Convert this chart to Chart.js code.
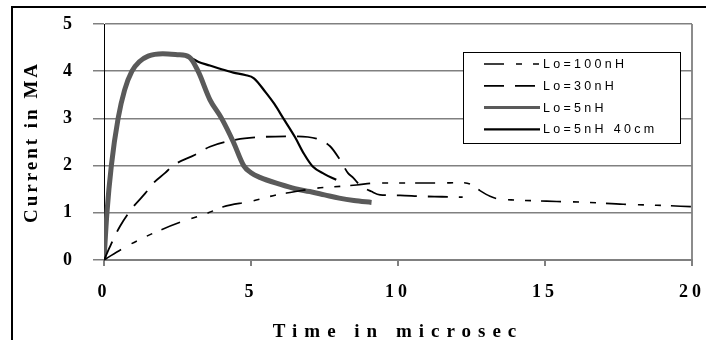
<!DOCTYPE html>
<html>
<head>
<meta charset="utf-8">
<script src="https://cdn.jsdelivr.net/npm/chart.js@4.4.1/dist/chart.umd.min.js"></script>
<style>
html,body{margin:0;padding:0;background:#fff;}
#wrap{position:relative;width:706px;height:340px;overflow:hidden;}
#frame{position:absolute;left:11px;top:6px;right:-4px;bottom:-4px;border-left:2px solid #000;border-top:2px solid #000;}
canvas{position:absolute;left:0;top:0;}
</style>
</head>
<body>
<div id="wrap"><div id="frame"></div><canvas id="chart" width="706" height="340"></canvas></div>
<script>
// ===== DATA =====
const seriesLabels = ["Lo=100nH", "Lo=30nH", "Lo=5nH", "Lo=5nH 40cm"];

const time100 = [0, 0.71, 1.17, 1.79, 2.64, 3.55, 4.06, 4.97, 5.87, 6.33, 7.23, 8.03, 8.59, 9.27, 10.3, 11.43, 12.1, 12.45, 12.79, 13.13, 13.36, 14.04, 15.4, 16.5, 17.66, 18.8, 20.0];
const curr100 = [0, 0.27, 0.42, 0.60, 0.81, 1.0, 1.13, 1.24, 1.38, 1.43, 1.52, 1.56, 1.59, 1.63, 1.63, 1.63, 1.64, 1.61, 1.47, 1.35, 1.30, 1.27, 1.24, 1.22, 1.18, 1.16, 1.13];

const time30 = [0, 0.2, 0.54, 1.0, 1.4, 1.68, 2.07, 2.35, 3.1, 3.6, 4.5, 5.19, 6.44, 7.23, 7.69, 8.03, 8.3, 8.48, 8.7, 9.1, 9.39, 10.07, 10.75, 11.5, 12.2];
const curr30 = [0, 0.28, 0.71, 1.13, 1.41, 1.63, 1.84, 2.0, 2.23, 2.4, 2.55, 2.6, 2.62, 2.57, 2.41, 2.12, 1.84, 1.74, 1.59, 1.45, 1.38, 1.37, 1.35, 1.34, 1.33];

const time5 = [0, 0.1, 0.25, 0.48, 0.7, 0.95, 1.2, 1.5, 2.0, 2.5, 2.9, 3.2, 3.6, 4.0, 4.4, 4.75, 5.0, 5.3, 6.0, 6.5, 7.0, 7.5, 8.0, 8.5, 9.1];
const curr5 = [0, 1.0, 2.0, 3.0, 3.6, 4.0, 4.2, 4.32, 4.37, 4.35, 4.3, 4.0, 3.4, 3.0, 2.5, 2.0, 1.85, 1.75, 1.6, 1.51, 1.45, 1.38, 1.31, 1.26, 1.22];

const time40 = [0, 0.1, 0.25, 0.48, 0.7, 0.95, 1.2, 1.5, 2.0, 2.5, 2.9, 3.2, 3.6, 4.0, 4.4, 4.8, 5.1, 5.5, 5.8, 6.1, 6.5, 6.8, 7.1, 7.5, 7.9];
const curr40 = [0, 1.0, 2.0, 3.0, 3.6, 4.0, 4.2, 4.32, 4.37, 4.35, 4.3, 4.2, 4.12, 4.04, 3.97, 3.92, 3.85, 3.55, 3.3, 3.0, 2.6, 2.25, 1.98, 1.82, 1.7];

const xTicks = [0, 5, 10, 15, 20];
const yTicks = [0, 1, 2, 3, 4, 5];

// ===== HELPERS =====
const serif = "'Liberation Serif','Times New Roman',serif";
const sans = "'Liberation Sans',Arial,sans-serif";
function pts(xs, ys){return xs.map((x,i)=>({x:x,y:ys[i]}));}

// letter spacing per scale (the scan looks stretched)
const spacingMap = {x:{title:'7px',ticks:'4px'}, y:{title:'3px',ticks:'0px'}};
const spacing = {
  id:'spacing',
  beforeDraw(chart){
    Object.values(chart.scales).forEach(s=>{
      if(s._spaced || !spacingMap[s.id]) return;
      s._spaced = true;
      const sp = spacingMap[s.id], t0 = s.drawTitle, l0 = s.drawLabels;
      s.drawTitle = function(){const c=this.ctx;c.save();c.letterSpacing=sp.title;t0.call(this);c.restore();};
      s.drawLabels = function(a){const c=this.ctx;c.save();c.letterSpacing=sp.ticks;l0.call(this,a);c.restore();};
    });
  }
};

// boxed legend inside the plot
const legendBox = {
  id:'legendBox',
  afterDraw(chart){
    const c = chart.ctx;
    const bx=463, by=52, bw=217, bh=91;
    c.save();
    c.fillStyle='#fff'; c.fillRect(bx,by,bw,bh);
    c.strokeStyle='#000'; c.lineWidth=1; c.strokeRect(bx+0.5,by+0.5,bw,bh);
    c.font = "12.5px " + sans; c.letterSpacing='3.3px';
    c.textBaseline='middle'; c.textAlign='left';
    chart.data.datasets.forEach((ds,i)=>{
      const y = 64 + i*21.8;
      c.save();
      c.strokeStyle=ds.borderColor; c.lineWidth=Math.min(ds.borderWidth,3);
      c.setLineDash(ds.borderDash||[]);
      c.beginPath(); c.moveTo(484,y); c.lineTo(540,y); c.stroke();
      c.restore();
      c.fillStyle='#000';
      c.fillText(ds.label,543,y+0.5);
    });
    c.restore();
  }
};

// ===== CHART =====
new Chart(document.getElementById('chart'),{
  type:'line',
  data:{datasets:[
    {label:seriesLabels[0],data:pts(time100,curr100),borderColor:'#000',borderWidth:1.6,borderDash:[20,12,6,11,6,10]},
    {label:seriesLabels[1],data:pts(time30,curr30),borderColor:'#000',borderWidth:1.8,borderDash:[20,11]},
    {label:seriesLabels[2],data:pts(time5,curr5),borderColor:'#5a5a5a',borderWidth:5},
    {label:seriesLabels[3],data:pts(time40,curr40),borderColor:'#000',borderWidth:2.2}
  ]},
  options:{
    responsive:false,
    animation:false,
    layout:{padding:{left:12,top:24,right:14,bottom:0}},
    elements:{point:{radius:0},line:{cubicInterpolationMode:'monotone',fill:false}},
    plugins:{legend:{display:false},tooltip:{enabled:false}},
    scales:{
      x:{
        type:'linear',min:0,max:20,
        afterBuildTicks:s=>{s.ticks=xTicks.map(v=>({value:v}));},
        afterFit:s=>{s.height=80;s.paddingLeft=0;s.paddingRight=0;},
        ticks:{font:{family:serif,size:18,weight:'bold'},color:'#000',padding:16,maxRotation:0},
        grid:{drawOnChartArea:true,color:c=>c.tick && c.tick.value===20?'#8c8c8c':'rgba(0,0,0,0)',lineWidth:2,tickLength:6,tickColor:'#000',tickWidth:1},
        border:{color:'#808080',width:2},
        title:{display:true,text:'Time in microsec',font:{family:serif,size:19,weight:'bold'},color:'#000',padding:{top:0,bottom:-3}}
      },
      y:{
        min:0,max:5,
        afterBuildTicks:s=>{s.ticks=yTicks.map(v=>({value:v}));},
        afterFit:s=>{s.width=92;s.paddingTop=0;s.paddingBottom=0;},
        ticks:{font:{family:serif,size:18,weight:'bold'},color:'#000',padding:21},
        grid:{color:'#808080',lineWidth:1.5,tickLength:11,tickColor:'#808080'},
        border:{color:'#000',width:1},
        title:{display:true,text:'Current in MA',font:{family:serif,size:19,weight:'bold'},color:'#000',padding:{top:9,bottom:0}}
      }
    }
  },
  plugins:[spacing,legendBox]
});
</script>
</body>
</html>
